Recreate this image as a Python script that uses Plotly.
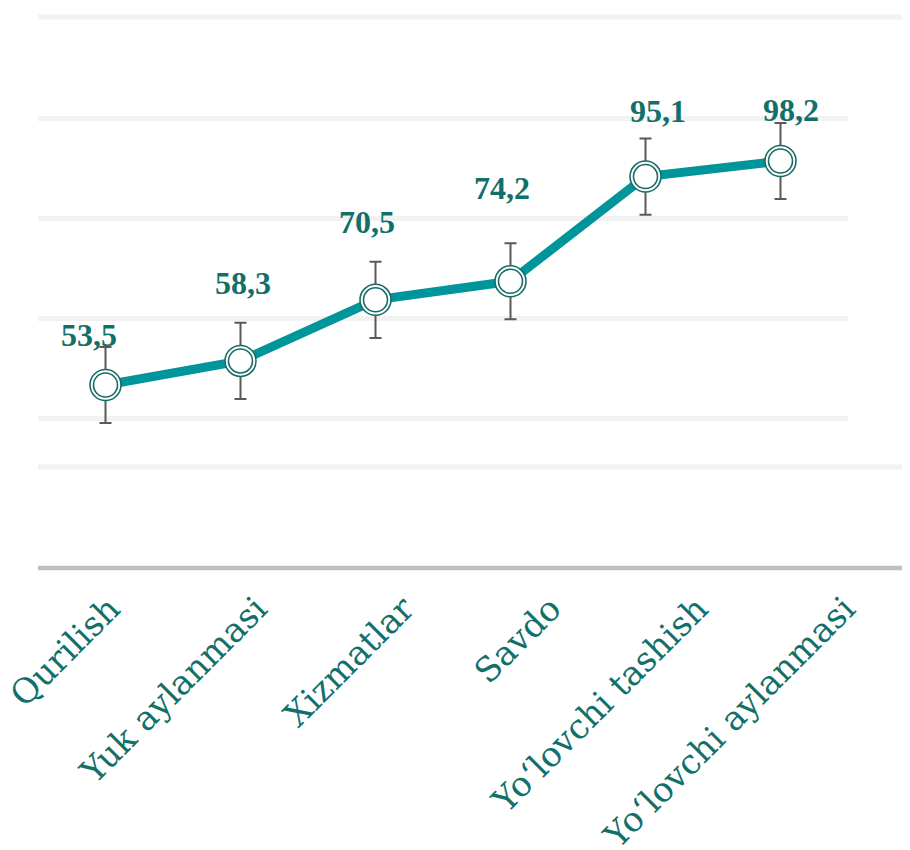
import plotly.graph_objects as go

categories = ["Qurilish", "Yuk aylanmasi", "Xizmatlar", "Savdo", "Yo‘lovchi tashish", "Yo‘lovchi aylanmasi"]
values = [53.5, 58.3, 70.5, 74.2, 95.1, 98.2]
errors = [7.6, 7.6, 7.6, 7.6, 7.6, 7.6]
grid_vals = [46.75, 66.75, 86.75, 106.75]
label_pos = list(range(len(categories)))

# label offsets (px) relative to each point
label_dx = [-17, 2, -9, -9, 12, 10]
label_dy = [50, 78, 78, 93, 66, 51]

LINE = "#00959b"
RING = "#176c68"
TEXT = "#12706b"

fig = go.Figure()
fig.add_trace(go.Scatter(
    x=categories, y=values, mode="lines+markers",
    line=dict(color=LINE, width=9),
    marker=dict(size=31, color="white", line=dict(color=RING, width=1.6)),
    error_y=dict(type="data", array=errors, color="#595959", thickness=2, width=6),
    hoverinfo="skip", showlegend=False,
))
fig.add_trace(go.Scatter(
    x=categories, y=values, mode="markers",
    marker=dict(size=24, color="white", line=dict(color=RING, width=1.6)),
    hoverinfo="skip", showlegend=False,
))
# carrier trace for the category label axis (invisible)
fig.add_trace(go.Scatter(
    x=label_pos, y=values, xaxis="x2", mode="markers",
    marker=dict(size=1, opacity=0), hoverinfo="skip", showlegend=False,
))

for c, v, dx, dy in zip(categories, values, label_dx, label_dy):
    fig.add_annotation(
        x=c, y=v, xref="x", yref="y", text=f"{v:.1f}".replace(".", ","),
        showarrow=False, xshift=dx, yshift=dy,
        font=dict(family="Liberation Serif", size=32, color=TEXT, weight="bold"),
    )

# full-width gridlines and baseline
fig.add_shape(type="line", xref="paper", yref="paper", x0=0, x1=1.2, y0=1, y1=1,
              line=dict(color="#f2f2f2", width=5), layer="below")
fig.add_shape(type="line", xref="paper", yref="paper", x0=0, x1=1.2, y0=0.1833, y1=0.1833,
              line=dict(color="#f2f2f2", width=5), layer="below")
fig.add_shape(type="line", xref="paper", yref="paper", x0=0, x1=1.2, y0=0, y1=0,
              line=dict(color="#bfbfbf", width=4.5), layer="below")

fig.update_layout(
    width=910, height=850,
    margin=dict(l=30, r=70, t=9, b=290),
    paper_bgcolor="white", plot_bgcolor="white",
    xaxis=dict(
        range=[-0.5, 5.5], showgrid=False, showline=False, zeroline=False,
        showticklabels=False, ticks="", automargin=False,
    ),
    xaxis2=dict(
        overlaying="x", anchor="y", side="bottom", type="linear",
        range=[-0.49, 5.02], tickvals=label_pos, ticktext=categories,
        showgrid=False, showline=False, zeroline=False,
        tickangle=-45, ticks="", automargin=False, ticklabelstandoff=13,
        ticklabeloverflow="allow",
        tickfont=dict(family="DejaVu Serif", size=34, color=TEXT),
    ),
    yaxis=dict(
        range=[16.98, 126.94], tickvals=grid_vals, showticklabels=False, automargin=False,
        showgrid=True, gridcolor="#f2f2f2", gridwidth=5, zeroline=False, showline=False,
    ),
)

fig.write_html("out.html")
